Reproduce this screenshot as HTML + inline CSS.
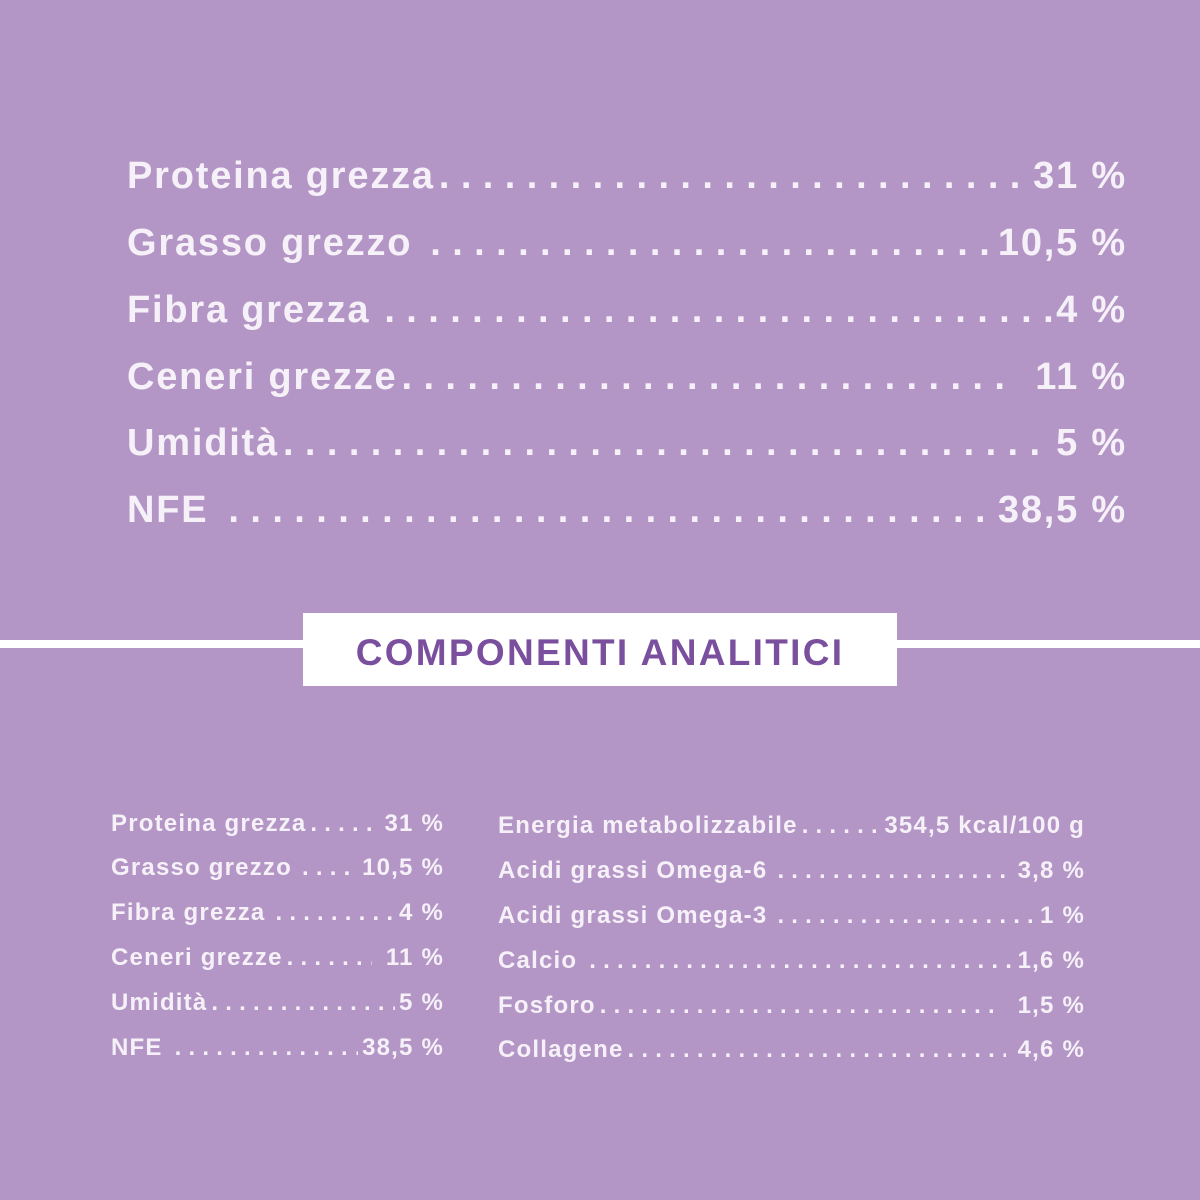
<!DOCTYPE html>
<html><head><meta charset="utf-8"><style>
html,body{margin:0;padding:0}
body{width:1200px;height:1200px;background:#b396c5;position:relative;overflow:hidden;font-family:"Liberation Sans",sans-serif;font-weight:bold;color:#f6f1f8}
.row{position:absolute;display:flex;align-items:baseline;white-space:nowrap}
.row .d{flex:1;overflow:hidden;white-space:nowrap;margin:0 4px;letter-spacing:0.3em}
.big{font-size:38px;height:46px;line-height:46px;letter-spacing:1.8px}
.sm{font-size:24px;height:30px;line-height:30px;letter-spacing:1.2px}
.line{position:absolute;left:0;width:1200px;top:640px;height:8px;background:#fff}
.box{position:absolute;left:303px;top:613px;width:594px;height:73px;background:#fff;color:#7a4f9e;font-size:37px;text-align:center;line-height:80px;letter-spacing:2.3px}
</style></head><body>
<div class="row big" style="left:127px;width:1000px;top:153px"><span>Proteina grezza</span><span class="d">........................................................................</span><span>31 %</span></div>
<div class="row big" style="left:127px;width:1000px;top:220px"><span>Grasso grezzo</span><span class="d" style="margin-left:18px">........................................................................</span><span>10,5 %</span></div>
<div class="row big" style="left:127px;width:1000px;top:287px"><span>Fibra grezza</span><span class="d" style="margin-left:14px">........................................................................</span><span>4 %</span></div>
<div class="row big" style="left:127px;width:1000px;top:354px"><span>Ceneri grezze</span><span class="d" style="margin-right:20px">........................................................................</span><span>11 %</span></div>
<div class="row big" style="left:127px;width:1000px;top:420px"><span>Umidità</span><span class="d">........................................................................</span><span>5 %</span></div>
<div class="row big" style="left:127px;width:1000px;top:487px"><span>NFE</span><span class="d" style="margin-left:20px">........................................................................</span><span>38,5 %</span></div>
<div class="line"></div>
<div class="box">COMPONENTI ANALITICI</div>
<div class="row sm" style="left:111px;width:333px;top:809px"><span>Proteina grezza</span><span class="d">..............................</span><span>31 %</span></div>
<div class="row sm" style="left:111px;width:333px;top:853px"><span>Grasso grezzo</span><span class="d" style="margin-left:10px">..............................</span><span>10,5 %</span></div>
<div class="row sm" style="left:111px;width:333px;top:898px"><span>Fibra grezza</span><span class="d" style="margin-left:10px">..............................</span><span>4 %</span></div>
<div class="row sm" style="left:111px;width:333px;top:943px"><span>Ceneri grezze</span><span class="d" style="margin-right:14px">..............................</span><span>11 %</span></div>
<div class="row sm" style="left:111px;width:333px;top:988px"><span>Umidità</span><span class="d">..............................</span><span>5 %</span></div>
<div class="row sm" style="left:111px;width:333px;top:1033px"><span>NFE</span><span class="d" style="margin-left:12px">..............................</span><span>38,5 %</span></div>
<div class="row sm" style="left:498px;width:587px;top:811px"><span>Energia metabolizzabile</span><span class="d">..........................................</span><span>354,5 kcal/100 g</span></div>
<div class="row sm" style="left:498px;width:587px;top:856px"><span>Acidi grassi Omega-6</span><span class="d" style="margin-left:10px;margin-right:10px">..........................................</span><span>3,8 %</span></div>
<div class="row sm" style="left:498px;width:587px;top:901px"><span>Acidi grassi Omega-3</span><span class="d" style="margin-left:10px">..........................................</span><span>1 %</span></div>
<div class="row sm" style="left:498px;width:587px;top:946px"><span>Calcio</span><span class="d" style="margin-left:12px">..........................................</span><span>1,6 %</span></div>
<div class="row sm" style="left:498px;width:587px;top:991px"><span>Fosforo</span><span class="d" style="margin-right:18px">..........................................</span><span>1,5 %</span></div>
<div class="row sm" style="left:498px;width:587px;top:1035px"><span>Collagene</span><span class="d" style="margin-right:12px">..........................................</span><span>4,6 %</span></div>
</body></html>
